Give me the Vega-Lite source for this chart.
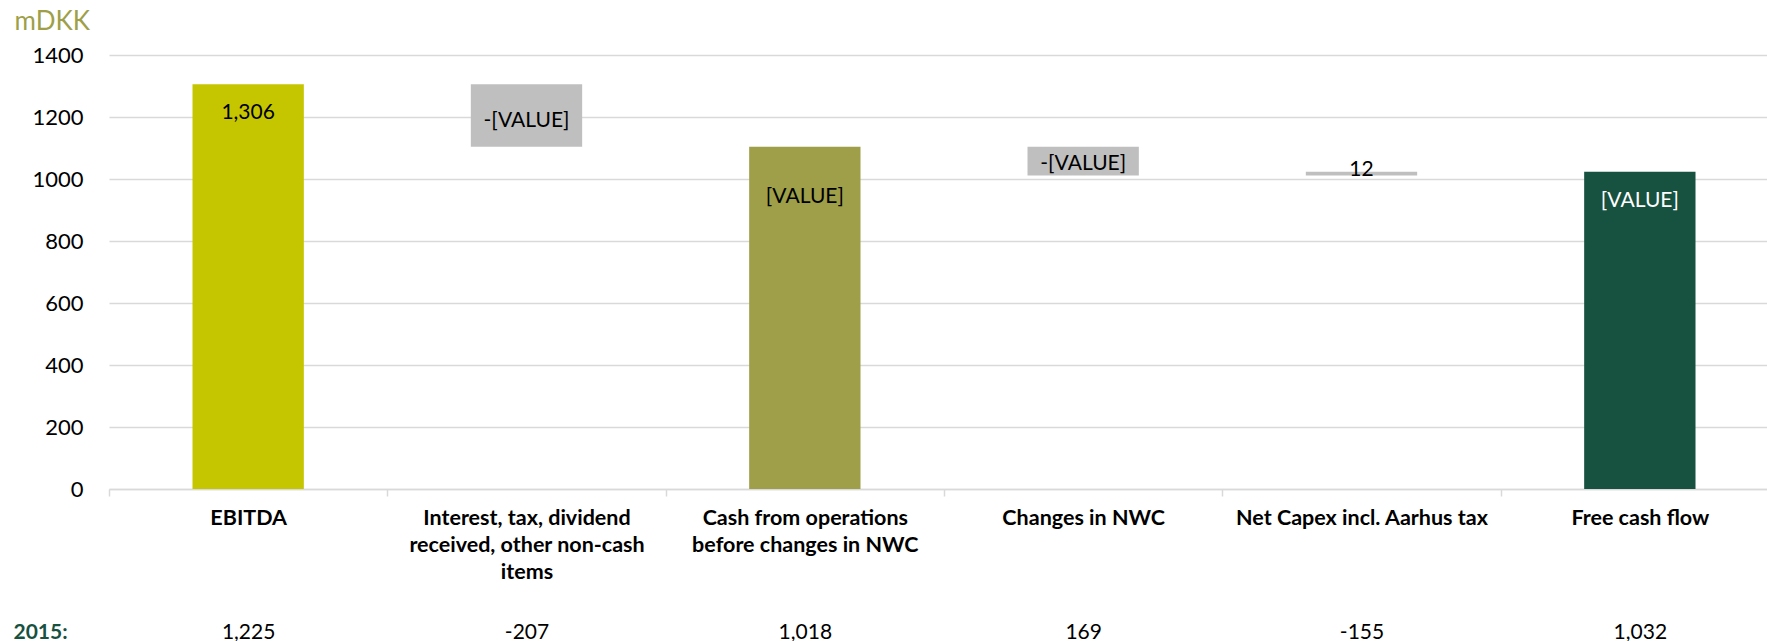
{
  "$schema": "https://vega.github.io/schema/vega-lite/v6.json",
  "width": 1658,
  "height": 434,
  "autosize": {"type": "none"},
  "padding": {"left": 109, "top": 55, "right": 0, "bottom": 152},
  "background": "white",
  "config": {"view": {"stroke": null}, "font": "Lato"},
  "data": {
    "values": [
      {"cat": "EBITDA", "lo": 0, "hi": 1306, "lbl": "1,306", "v2015": "1,225"},
      {"cat": "Interest, tax, dividend|received, other non-cash|items", "lo": 1104, "hi": 1306, "lbl": "-[VALUE]", "v2015": "-207"},
      {"cat": "Cash from operations|before changes in NWC", "lo": 0, "hi": 1104, "lbl": "[VALUE]", "v2015": "1,018"},
      {"cat": "Changes in NWC", "lo": 1011, "hi": 1104, "lbl": "-[VALUE]", "v2015": "169"},
      {"cat": "Net Capex incl. Aarhus tax", "lo": 1011, "hi": 1023, "lbl": "12", "v2015": "-155"},
      {"cat": "Free cash flow", "lo": 0, "hi": 1023, "lbl": "[VALUE]", "v2015": "1,032"}
    ]
  },
  "resolve": {"scale": {"x": "independent"}},
  "layer": [
    {
      "encoding": {
        "x": {
          "field": "cat", "type": "nominal", "sort": null,
          "scale": {"range": [0, 1670], "paddingInner": 0, "paddingOuter": 0},
          "axis": {
            "title": null, "labelExpr": "split(datum.label, '|')",
            "labelFont": "Lato", "labelFontWeight": "bold", "labelFontSize": 21.5,
            "labelColor": "#000000", "labelLineHeight": 27, "labelPadding": 11,
            "labelAngle": 0, "labelLimit": 400,
            "tickBand": "extent", "tickColor": "#D9D9D9", "tickSize": 7, "tickWidth": 1.5,
            "domainColor": "#D9D9D9", "domainWidth": 1.5
          }
        },
        "y": {
          "field": "hi", "type": "quantitative",
          "scale": {"domain": [0, 1400], "nice": false},
          "axis": {
            "title": "mDKK", "titleAngle": 0, "titleAlign": "left", "titleBaseline": "middle",
            "titleX": -95, "titleY": -34, "titleFont": "Lato", "titleFontSize": 26,
            "titleFontWeight": "normal", "titleColor": "#9E9F48",
            "values": [0, 200, 400, 600, 800, 1000, 1200, 1400], "format": "d",
            "domain": false, "ticks": false, "labelPadding": 26,
            "labelFont": "Lato", "labelFontSize": 22, "labelColor": "#000000",
            "gridColor": "#D9D9D9", "gridWidth": 1.5
          }
        }
      },
      "layer": [
        {
          "mark": {"type": "bar", "width": {"band": 0.4}},
          "encoding": {
            "y2": {"field": "lo"},
            "color": {
              "field": "cat", "type": "nominal",
              "scale": {
                "domain": ["EBITDA", "Interest, tax, dividend|received, other non-cash|items", "Cash from operations|before changes in NWC", "Changes in NWC", "Net Capex incl. Aarhus tax", "Free cash flow"],
                "range": ["#C6C600", "#BFBFBF", "#9E9F48", "#BFBFBF", "#BFBFBF", "#17513F"]
              },
              "legend": null
            }
          }
        },
        {
          "transform": [{"filter": "datum.cat == 'EBITDA' || datum.cat == 'Free cash flow'"}],
          "mark": {"type": "text", "dy": 29, "baseline": "middle", "fontSize": 21, "font": "Lato"},
          "encoding": {
            "text": {"field": "lbl"},
            "color": {"condition": {"test": "datum.cat == 'Free cash flow'", "value": "#FFFFFF"}, "value": "#000000"}
          }
        },
        {
          "transform": [{"filter": "datum.cat == 'Cash from operations|before changes in NWC'"}],
          "mark": {"type": "text", "dy": 50, "baseline": "middle", "fontSize": 21, "font": "Lato", "color": "#000000"},
          "encoding": {"text": {"field": "lbl"}}
        },
        {
          "transform": [{"filter": "datum.cat == 'Interest, tax, dividend|received, other non-cash|items'"}],
          "mark": {"type": "text", "dy": 37, "baseline": "middle", "fontSize": 21, "font": "Lato", "color": "#000000"},
          "encoding": {"text": {"field": "lbl"}}
        },
        {
          "transform": [{"filter": "datum.cat == 'Changes in NWC'"}],
          "mark": {"type": "text", "dy": 17, "baseline": "middle", "fontSize": 21, "font": "Lato", "color": "#000000"},
          "encoding": {"text": {"field": "lbl"}}
        },
        {
          "transform": [{"filter": "datum.cat == 'Net Capex incl. Aarhus tax'"}],
          "mark": {"type": "text", "dy": -2, "baseline": "middle", "fontSize": 21, "font": "Lato", "color": "#000000"},
          "encoding": {"text": {"field": "lbl"}}
        }
      ]
    },
    {
      "mark": {"type": "text", "text": ""},
      "encoding": {
        "x": {
          "field": "v2015", "type": "nominal", "sort": null,
          "scale": {"range": [0, 1670], "paddingInner": 0, "paddingOuter": 0},
          "axis": {
            "orient": "bottom", "offset": 130, "title": "2015:",
            "domain": false, "ticks": false, "labelPadding": 2, "labelAngle": 0,
            "labelFont": "Lato", "labelFontSize": 21, "labelColor": "#000000",
            "titleX": -96, "titleY": 2, "titleAlign": "left", "titleBaseline": "top",
            "titleFont": "Lato", "titleFontSize": 21, "titleFontWeight": "bold", "titleColor": "#17513F"
          }
        }
      }
    }
  ]
}
